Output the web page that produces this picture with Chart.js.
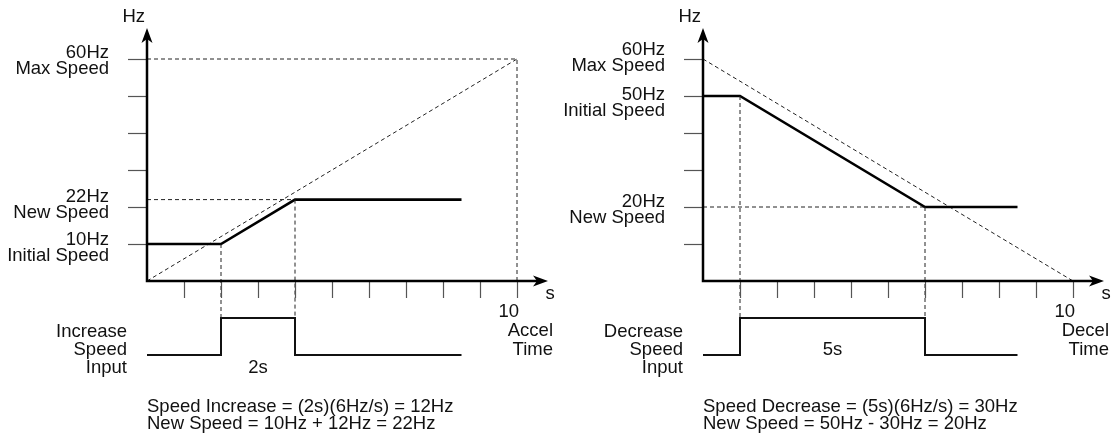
<!DOCTYPE html>
<html>
<head>
<meta charset="utf-8">
<script src="https://cdn.jsdelivr.net/npm/chart.js@4/dist/chart.umd.min.js"></script>
<style>
    html, body { margin: 0; padding: 0; background: #fff; }
    #wrap { position: relative; width: 1111px; height: 433px; }
    canvas { position: absolute; top: 0; }
    #accel { left: 0; }
    #decel { left: 556px; }
</style>
</head>
<body>
<div id="wrap">
    <canvas id="accel" width="556" height="433"></canvas>
    <canvas id="decel" width="555" height="433"></canvas>
</div>
<script>
// shared
var maxSpeed = 60;
var rampTime = 10;
var hzTicks = [10, 20, 30, 40, 50, 60];
var secTicks = [1, 2, 3, 4, 5, 6, 7, 8, 9, 10];

// left: accel
var accelTime = [0, 2, 4, 8.5];
var accelSpeed = [10, 10, 22, 22];
var accelInputTime = [0, 2, 2, 4, 4, 8.5];
var accelInput = [0, 0, 1, 1, 0, 0];
var accelRampTime = [0, 10];
var accelRampSpeed = [0, 60];
var accelLabelValues = [60, 22, 10];
var accelLabelHz = ['60Hz', '22Hz', '10Hz'];
var accelLabelNames = ['Max Speed', 'New Speed', 'Initial Speed'];
var accelInputName = ['Increase', 'Speed', 'Input'];
var accelNotes = ['Speed Increase = (2s)(6Hz/s) = 12Hz', 'New Speed = 10Hz + 12Hz = 22Hz'];

// right: decel
var decelTime = [0, 1, 6, 8.5];
var decelSpeed = [50, 50, 20, 20];
var decelInputTime = [0, 1, 1, 6, 6, 8.5];
var decelInput = [0, 0, 1, 1, 0, 0];
var decelRampTime = [0, 10];
var decelRampSpeed = [60, 0];
var decelLabelValues = [60, 50, 20];
var decelLabelHz = ['60Hz', '50Hz', '20Hz'];
var decelLabelNames = ['Max Speed', 'Initial Speed', 'New Speed'];
var decelInputName = ['Decrease', 'Speed', 'Input'];
var decelNotes = ['Speed Decrease = (5s)(6Hz/s) = 30Hz', 'New Speed = 50Hz - 30Hz = 20Hz'];

var FONT = '18.5px "Liberation Sans", Arial, sans-serif';
var INK = '#111';

function xy(xs, ys) {
    return xs.map(function (x, i) { return { x: x, y: ys[i] }; });
}

function arrow(ctx, tx, ty, dx, dy) {
    // stealth arrowhead pointing along (dx,dy)
    var len = 15, half = 5.5, notch = 11;
    var px = -dy, py = dx;
    ctx.beginPath();
    ctx.moveTo(tx, ty);
    ctx.lineTo(tx - dx * len + px * half, ty - dy * len + py * half);
    ctx.lineTo(tx - dx * notch, ty - dy * notch);
    ctx.lineTo(tx - dx * len - px * half, ty - dy * len - py * half);
    ctx.closePath();
    ctx.fill();
}

var diagramPlugin = {
    id: 'diagram',
    afterDatasetsDraw: function (chart) {
        var ctx = chart.ctx, p = chart.options.plugins.diagram;
        var xs = chart.scales.x, ys = chart.scales.y, yp = chart.scales.yp;
        var x0 = xs.getPixelForValue(0), y0 = ys.getPixelForValue(0);
        var x10 = xs.getPixelForValue(rampTime);
        var yTop = ys.getPixelForValue(maxSpeed);
        var pulseHigh = yp.getPixelForValue(1);
        ctx.save();

        // drop lines from speed changes down to the input pulse
        ctx.strokeStyle = '#222';
        ctx.lineWidth = 1;
        ctx.setLineDash([4, 3]);
        [1, 2].forEach(function (i) {
            var x = xs.getPixelForValue(p.time[i]);
            ctx.beginPath();
            ctx.moveTo(x, ys.getPixelForValue(p.speed[i]));
            ctx.lineTo(x, pulseHigh);
            ctx.stroke();
        });
        ctx.setLineDash([]);

        // ticks
        ctx.strokeStyle = '#555';
        ctx.lineWidth = 1.2;
        hzTicks.forEach(function (v) {
            var y = Math.round(ys.getPixelForValue(v)) + 0.5;
            ctx.beginPath();
            ctx.moveTo(x0 - 19, y);
            ctx.lineTo(x0, y);
            ctx.stroke();
        });
        secTicks.forEach(function (v) {
            var x = Math.round(xs.getPixelForValue(v)) + 0.5;
            ctx.beginPath();
            ctx.moveTo(x, y0);
            ctx.lineTo(x, y0 + 17);
            ctx.stroke();
        });

        // axes
        ctx.strokeStyle = '#000';
        ctx.fillStyle = '#000';
        ctx.lineWidth = 2.5;
        ctx.beginPath();
        ctx.moveTo(x0, yTop - 20);
        ctx.lineTo(x0, y0);
        ctx.lineTo(x10 + 20, y0);
        ctx.stroke();
        arrow(ctx, x0, yTop - 31, 0, -1);
        arrow(ctx, x10 + 31, y0, 1, 0);

        // text
        ctx.font = FONT;
        ctx.fillStyle = INK;
        ctx.textAlign = 'right';
        ctx.fillText('Hz', x0 - 2, yTop - 37);
        p.labelValues.forEach(function (v, i) {
            var y = ys.getPixelForValue(v) + p.labelNudge[i];
            ctx.fillText(p.labelHz[i], x0 - 38, y);
            ctx.fillText(p.labelNames[i], x0 - 38, y + 16);
        });
        p.inputName.forEach(function (t, i) {
            ctx.fillText(t, x0 - 20, pulseHigh + 19 + i * 18);
        });
        ctx.fillText('10', x10 + 2, y0 + 36);
        ctx.fillText(p.timeName, x10 + 36, y0 + 55);
        ctx.fillText('Time', x10 + 36, y0 + 74);
        ctx.textAlign = 'center';
        ctx.fillText('s', x10 + 33, y0 + 18);
        var pulseMid = (p.inputTime[2] + p.inputTime[3]) / 2;
        ctx.fillText(p.pulseText, xs.getPixelForValue(pulseMid), pulseHigh + 19 + p.pulseRow * 18);
        ctx.textAlign = 'left';
        p.notes.forEach(function (t, i) {
            ctx.fillText(t, x0, y0 + 131 + i * 17);
        });
        ctx.restore();
    }
};

function drawPanel(id, d) {
    var sets = [{
        data: xy(d.time, d.speed),
        borderColor: '#000',
        borderWidth: 2.6,
        order: 0
    }, {
        data: xy(d.inputTime, d.input),
        yAxisID: 'yp',
        borderColor: '#111',
        borderWidth: 2,
        order: 1
    }, {
        data: xy(d.rampTime, d.rampSpeed),
        borderColor: '#222',
        borderWidth: 1,
        borderDash: [4, 3],
        order: 3
    }];
    d.guides.forEach(function (g) {
        sets.push({
            data: g,
            borderColor: '#222',
            borderWidth: 1,
            borderDash: [4, 3],
            order: 2
        });
    });
    new Chart(document.getElementById(id), {
        type: 'scatter',
        data: { datasets: sets },
        options: {
            responsive: false,
            animation: false,
            devicePixelRatio: 1,
            showLine: true,
            clip: false,
            layout: { padding: { left: 147, top: 59, right: d.right, bottom: 78 } },
            elements: { point: { radius: 0 }, line: { tension: 0 } },
            plugins: {
                legend: { display: false },
                tooltip: { enabled: false },
                diagram: d
            },
            scales: {
                x: { type: 'linear', min: 0, max: 10, display: false },
                y: { min: -20, max: 60, display: false },
                yp: { min: 0, max: 8, display: false }
            }
        },
        plugins: [diagramPlugin]
    });
}

drawPanel('accel', {
    time: accelTime, speed: accelSpeed,
    inputTime: accelInputTime, input: accelInput,
    rampTime: accelRampTime, rampSpeed: accelRampSpeed,
    guides: [
        [{ x: 0, y: maxSpeed }, { x: rampTime, y: maxSpeed }, { x: rampTime, y: 0 }],
        [{ x: 0, y: accelSpeed[2] }, { x: accelTime[2], y: accelSpeed[2] }]
    ],
    labelValues: accelLabelValues, labelHz: accelLabelHz, labelNames: accelLabelNames,
    labelNudge: [-1, 2, 1],
    inputName: accelInputName, notes: accelNotes,
    timeName: 'Accel', pulseText: '2s', pulseRow: 2, right: 39
});
drawPanel('decel', {
    time: decelTime, speed: decelSpeed,
    inputTime: decelInputTime, input: decelInput,
    rampTime: decelRampTime, rampSpeed: decelRampSpeed,
    guides: [
        [{ x: 0, y: decelSpeed[2] }, { x: decelTime[2], y: decelSpeed[2] }]
    ],
    labelValues: decelLabelValues, labelHz: decelLabelHz, labelNames: decelLabelNames,
    labelNudge: [-4, 4, 0],
    inputName: decelInputName, notes: decelNotes,
    timeName: 'Decel', pulseText: '5s', pulseRow: 1, right: 38
});
</script>
</body>
</html>
